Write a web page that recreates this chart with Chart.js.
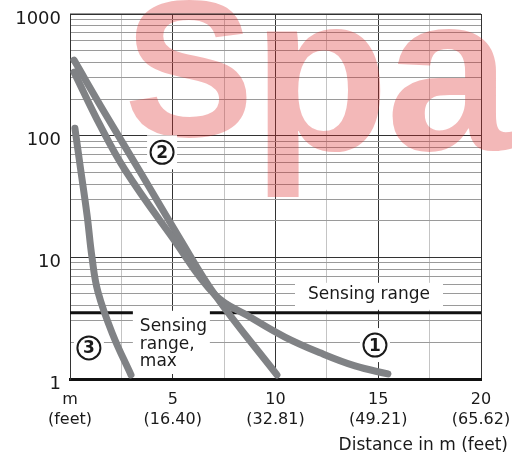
<!DOCTYPE html>
<html>
<head>
<meta charset="utf-8">
<script src="https://cdn.jsdelivr.net/npm/chart.js@4.4.1/dist/chart.umd.min.js"></script>
<style>
  html, body { margin: 0; padding: 0; background: #fff; }
</style>
</head>
<body>
<canvas id="rangeChart" width="512" height="460"></canvas>
<script>
// curve 1 (reaches ~15.5 m)
const curve1X = [0.195, 1.46, 2.68, 4.96, 7.06, 8.76, 10.46, 12.17, 13.87, 15.47];
const curve1Y = [333, 122, 52.2, 14.7, 4.9, 3.23, 2.21, 1.64, 1.28, 1.1];
// curve 2 (reaches ~10 m)
const curve2X = [0.195, 1.7, 3.36, 5.3, 7.06, 10.07];
const curve2Y = [418, 153, 52.2, 14.7, 4.9, 1.08];
// curve 3 (reaches ~3 m)
const curve3X = [0.24, 0.49, 0.83, 1.07, 1.36, 2.09, 2.97];
const curve3Y = [115, 57, 22.3, 10, 5.2, 2.3, 1.08];

const sensingRange = 3.5;

const xTickValues = [0, 5, 10, 15, 20];
const xTickMeters = ['m', '5', '10', '15', '20'];
const xTickFeet = ['(feet)', '(16.40)', '(32.81)', '(49.21)', '(65.62)'];
const yTickLabels = [1, 10, 100, 1000];

const curveColor = '#808285';
const ink = '#1a1a1a';
const FONT = '"DejaVu Sans", sans-serif';

const toPoints = (xs, ys) => xs.map((x, i) => ({ x, y: ys[i] }));

function curve(xs, ys) {
  return {
    data: toPoints(xs, ys),
    borderColor: curveColor,
    borderWidth: 7,
    borderCapStyle: 'round',
    borderJoinStyle: 'round',
    pointRadius: 0,
    tension: 0.4,
    fill: false,
  };
}

function whiteBox(ctx, x, y, w, h) {
  ctx.fillStyle = '#fff';
  ctx.fillRect(x, y, w, h);
}

function badge(ctx, cx, cy, digit) {
  whiteBox(ctx, cx - 15, cy - 17, 30, 34);
  ctx.beginPath();
  ctx.arc(cx, cy, 11.5, 0, Math.PI * 2);
  ctx.lineWidth = 2;
  ctx.strokeStyle = ink;
  ctx.stroke();
  ctx.fillStyle = ink;
  ctx.font = 'bold 17px ' + FONT;
  ctx.textAlign = 'center';
  ctx.textBaseline = 'middle';
  ctx.fillText(digit, cx, cy + 1);
}

const overlay = {
  id: 'overlay',
  beforeDatasetsDraw(chart) {
    const { ctx, chartArea: a, scales: { x, y } } = chart;
    ctx.save();

    // watermark
    ctx.fillStyle = 'rgba(220, 40, 40, 0.33)';
    ctx.textAlign = 'left';
    ctx.textBaseline = 'alphabetic';
    ctx.font = 'bold 195px "Liberation Sans"';
    ctx.fillText('S', 124, 136);
    ctx.font = 'bold 225px "Liberation Sans"';
    ctx.fillText('p', 252, 150);
    ctx.fillText('a', 386, 150);

    // sensing range line
    const sy = y.getPixelForValue(sensingRange);
    ctx.beginPath();
    ctx.moveTo(a.left, sy);
    ctx.lineTo(a.right, sy);
    ctx.lineWidth = 3;
    ctx.strokeStyle = '#111';
    ctx.stroke();

    // "Sensing range" label
    ctx.font = '17px ' + FONT;
    const lx = x.getPixelForValue(14.55);
    const tw = ctx.measureText('Sensing range').width;
    whiteBox(ctx, lx - tw / 2 - 13, sy - 30, tw + 26, 27);
    ctx.fillStyle = ink;
    ctx.textAlign = 'center';
    ctx.textBaseline = 'middle';
    ctx.fillText('Sensing range', lx, sy - 18);

    // "Sensing range, max" label
    const mx = x.getPixelForValue(3.4);
    whiteBox(ctx, mx - 7, sy - 2, 77, a.bottom - sy - 3);
    ctx.fillStyle = ink;
    ctx.textAlign = 'left';
    ['Sensing', 'range,', 'max'].forEach((t, i) => {
      ctx.fillText(t, mx, sy + 14 + i * 17.5);
    });

    // curve numbers
    badge(ctx, x.getPixelForValue(14.84), y.getPixelForValue(1.9), '1');
    badge(ctx, x.getPixelForValue(4.48), y.getPixelForValue(73), '2');
    badge(ctx, x.getPixelForValue(0.92), y.getPixelForValue(1.8), '3');

    ctx.restore();
  },
  afterDraw(chart) {
    const { ctx, chartArea: a } = chart;
    ctx.save();
    // top border
    ctx.beginPath();
    ctx.moveTo(a.left, a.top);
    ctx.lineTo(a.right, a.top);
    ctx.lineWidth = 1;
    ctx.strokeStyle = '#333';
    ctx.stroke();
    // axis title
    ctx.fillStyle = ink;
    ctx.font = '17px ' + FONT;
    ctx.textAlign = 'right';
    ctx.textBaseline = 'middle';
    ctx.fillText('Distance in m (feet)', 508, 446);
    ctx.restore();
  },
};

new Chart(document.getElementById('rangeChart'), {
  type: 'line',
  data: {
    datasets: [
      curve(curve1X, curve1Y),
      curve(curve2X, curve2Y),
      curve(curve3X, curve3Y),
    ],
  },
  options: {
    responsive: false,
    animation: false,
    layout: { padding: { top: 14, right: 31, bottom: 0, left: 0 } },
    plugins: { legend: { display: false }, tooltip: { enabled: false } },
    scales: {
      x: {
        type: 'linear',
        min: 0,
        max: 20,
        afterFit(scale) {
          scale.height = 81;
          scale.paddingLeft = 0;
          scale.paddingRight = 0;
        },
        afterBuildTicks(scale) {
          const t = [];
          for (let v = 0; v <= 20; v += 2.5) t.push({ value: v });
          scale.ticks = t;
        },
        grid: {
          drawTicks: false,
          lineWidth: 1,
          color: c => (c.tick && c.tick.value % 5 === 0) ? '#333' : '#c4c4c4',
        },
        border: { display: true, color: '#111', width: 3 },
        ticks: {
          autoSkip: false,
          maxRotation: 0,
          padding: 11,
          color: ink,
          font: { family: FONT, size: 16, lineHeight: 1.25 },
          callback: v => {
            const i = xTickValues.indexOf(v);
            return i < 0 ? '' : [xTickMeters[i], xTickFeet[i]];
          },
        },
      },
      y: {
        type: 'logarithmic',
        min: 1,
        max: 1000,
        afterFit(scale) {
          scale.width = 70;
          scale.paddingTop = 0;
          scale.paddingBottom = 0;
        },
        afterBuildTicks(scale) {
          const t = [];
          for (let d = 1; d < 1000; d *= 10) {
            for (let m = 1; m < 10; m++) t.push({ value: d * m });
          }
          t.push({ value: 1000 });
          scale.ticks = t;
        },
        grid: {
          drawTicks: false,
          lineWidth: 1,
          color: c => (c.tick && yTickLabels.includes(c.tick.value)) ? '#333' : '#9a9a9a',
        },
        border: { display: true, color: '#333', width: 1 },
        ticks: {
          autoSkip: false,
          padding: 9,
          labelOffset: 5,
          color: ink,
          font: { family: FONT, size: 18 },
          callback: v => yTickLabels.includes(v) ? String(v) : '',
        },
      },
    },
  },
  plugins: [overlay],
});
</script>
</body>
</html>
